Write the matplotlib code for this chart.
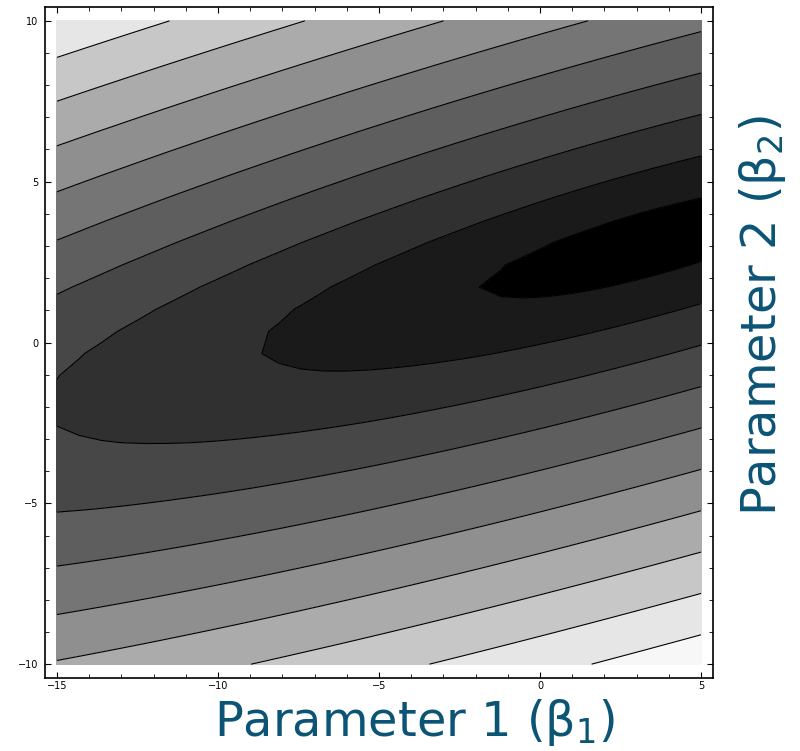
import numpy as np
import matplotlib
matplotlib.use("Agg")
import matplotlib.pyplot as plt
from matplotlib.ticker import MultipleLocator

# loss surface, values
beta1_range = [-15, 5]
beta2_range = [-10, 10]
n_grid = 30
centre = [3.5, 3.1]          # minimum of the surface
quad_a = 0.1087              # coefficient of (b1 - c1)^2
quad_b = -0.2695             # cross term
quad_c = 1.0                 # coefficient of (b2 - c2)^2
level_step = 1.285
levels = [0.8, 1.8, 2.8, 3.8, 4.8, 5.8, 6.8, 7.8, 8.8, 9.8]
band_grays = [0.0, 0.1, 0.19, 0.28, 0.37, 0.46, 0.56, 0.67, 0.78, 0.9, 0.97]

x_ticks = [-15, -10, -5, 0, 5]
y_ticks = [-10, -5, 0, 5, 10]
label_color = "#0b5475"

b1 = np.linspace(beta1_range[0], beta1_range[1], n_grid)
b2 = np.linspace(beta2_range[0], beta2_range[1], n_grid)
B1, B2 = np.meshgrid(b1, b2)
u = B1 - centre[0]
v = B2 - centre[1]
loss = np.sqrt(quad_a * u**2 + 2 * quad_b * u * v + quad_c * v**2)

lv = [0.0] + [l * level_step for l in levels] + [loss.max() + 1]
cols = [str(g) for g in band_grays]

fig = plt.figure(figsize=(8, 7.51), dpi=100)
ax = fig.add_axes([45 / 800, 73 / 751, 668 / 800, 671 / 751])
ax.contourf(B1, B2, loss, levels=lv, colors=cols)
ax.contour(B1, B2, loss, levels=lv[1:-1], colors="black", linewidths=0.8)

ax.set_xlim(-15.37, 5.37)
ax.set_ylim(-10.43, 10.43)
ax.set_xticks(x_ticks)
ax.set_yticks(y_ticks)
ax.xaxis.set_minor_locator(MultipleLocator(1))
ax.yaxis.set_minor_locator(MultipleLocator(1))
ax.tick_params(which="both", direction="in", top=True, right=True, labelsize=7)
ax.tick_params(which="major", length=4, width=0.8)
ax.tick_params(which="minor", length=3, width=0.6)
ax.tick_params(axis="x", pad=2.5)
ax.tick_params(axis="y", pad=5)
for s in ax.spines.values():
    s.set_linewidth(1.2)

fig.text(414 / 800, 1 - 722 / 751, r"Parameter 1 (β$_1$)", fontsize=34.5,
         color=label_color, ha="center", va="center")
fig.text(762 / 800, 1 - 316 / 751, r"Parameter 2 (β$_2$)", fontsize=34.5,
         color=label_color, ha="center", va="center", rotation=90)

fig.savefig("out.png", dpi=100)
